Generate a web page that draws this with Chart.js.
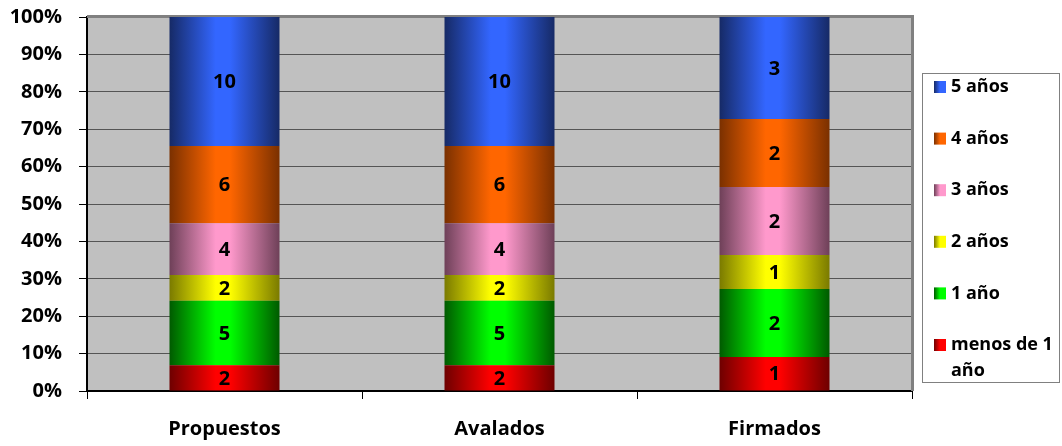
<!DOCTYPE html>
<html>
<head>
<meta charset="utf-8">
<script src="https://cdn.jsdelivr.net/npm/chart.js@4/dist/chart.umd.min.js"></script>
<style>
  html, body { margin: 0; padding: 0; background: #fff; }
  #wrap { width: 1062px; height: 446px; }
</style>
</head>
<body>
<div id="wrap"><canvas id="chart" width="1062" height="446"></canvas></div>
<script>
'use strict';
// categorias y series (conteos)
let categories = ['Propuestos', 'Avalados', 'Firmados'];
let seriesNames = ['menos de 1 año', '1 año', '2 años', '3 años', '4 años', '5 años'];
let menosDeUno = [2, 2, 1];
let unAnio = [5, 5, 2];
let dosAnios = [2, 2, 1];
let tresAnios = [4, 4, 2];
let cuatroAnios = [6, 6, 2];
let cincoAnios = [10, 10, 3];
let yTicks = [0, 10, 20, 30, 40, 50, 60, 70, 80, 90, 100];

// colores: borde oscuro, centro claro
let darkColors = ['#6e0000', '#005a00', '#7a7a00', '#6e4058', '#7a3000', '#162a66'];
let lightColors = ['#ff0000', '#00ff00', '#ffff00', '#ff99cc', '#ff6600', '#3366ff'];

let counts = [menosDeUno, unAnio, dosAnios, tresAnios, cuatroAnios, cincoAnios];
let totals = categories.map((c, i) => counts.reduce((s, arr) => s + arr[i], 0));

const FONT = '"Open Sans", "Liberation Sans", sans-serif';

function barGradient(ctx, s) {
  let chart = ctx.chart;
  if (!chart.chartArea || !chart.scales.x) return lightColors[s];
  let xs = chart.scales.x;
  let cw = xs.width / categories.length;
  let bw = cw * 0.4;
  let cx = xs.getPixelForValue(ctx.dataIndex);
  let g = chart.ctx.createLinearGradient(cx - bw / 2, 0, cx + bw / 2, 0);
  g.addColorStop(0, darkColors[s]);
  g.addColorStop(0.42, lightColors[s]);
  g.addColorStop(0.55, lightColors[s]);
  g.addColorStop(1, darkColors[s]);
  return g;
}

let datasets = counts.map((arr, s) => ({
  label: seriesNames[s],
  data: arr.map((v, i) => v / totals[i] * 100),
  counts: arr,
  backgroundColor: (ctx) => barGradient(ctx, s),
  borderWidth: 0,
  barPercentage: 0.4,
  categoryPercentage: 1.0
}));

// numeros dentro de cada segmento
let valueLabels = {
  id: 'valueLabels',
  afterDatasetsDraw(chart) {
    let c = chart.ctx;
    c.save();
    c.font = 'bold 20px ' + FONT;
    c.fillStyle = '#000';
    c.textAlign = 'center';
    c.textBaseline = 'middle';
    chart.data.datasets.forEach((ds, s) => {
      let meta = chart.getDatasetMeta(s);
      meta.data.forEach((bar, i) => {
        let mid = (bar.y + bar.base) / 2;
        c.fillText(String(ds.counts[i]), bar.x, mid + 1);
      });
    });
    c.restore();
  }
};

// marco del area y leyenda a la derecha
let frameAndLegend = {
  id: 'frameAndLegend',
  beforeDraw(chart) {
    let a = chart.chartArea;
    let c = chart.ctx;
    c.save();
    c.fillStyle = '#c0c0c0';
    c.fillRect(a.left, a.top, a.right - a.left, a.bottom - a.top);
    c.restore();
  },
  beforeDatasetsDraw(chart) {
    let a = chart.chartArea;
    let c = chart.ctx;
    c.save();
    c.strokeStyle = '#808080';
    c.lineWidth = 3;
    c.beginPath();
    c.moveTo(a.left, a.top - 0.5);
    c.lineTo(a.right + 0.5, a.top - 0.5);
    c.lineTo(a.right + 0.5, a.bottom);
    c.stroke();
    c.restore();
  },
  afterDraw(chart) {
    let c = chart.ctx;
    c.save();
    // leyenda
    let bx = 922, by = 73, bw = 138, bh = 310;
    c.fillStyle = '#fff';
    c.fillRect(bx, by, bw, bh);
    c.strokeStyle = '#808080';
    c.lineWidth = 1;
    c.strokeRect(bx + 0.5, by + 0.5, bw - 1, bh - 1);
    c.font = 'bold 18px ' + FONT;
    c.textBaseline = 'middle';
    c.textAlign = 'left';
    let order = [5, 4, 3, 2, 1, 0];
    let y = 87;
    order.forEach((s) => {
      let g = c.createLinearGradient(934, 0, 946, 0);
      g.addColorStop(0, darkColors[s]);
      g.addColorStop(0.5, lightColors[s]);
      g.addColorStop(1, lightColors[s]);
      c.fillStyle = g;
      c.fillRect(934, y - 6, 12, 12);
      c.fillStyle = '#000';
      // ajuste de texto a varias lineas
      let words = seriesNames[s].split(' ');
      let lines = [];
      let cur = '';
      words.forEach((w) => {
        let t = cur ? cur + ' ' + w : w;
        if (c.measureText(t).width > 106 && cur) { lines.push(cur); cur = w; }
        else cur = t;
      });
      lines.push(cur);
      lines.forEach((ln, k) => c.fillText(ln, 951, y + k * 26));
      y += 51.6;
    });
    c.restore();
  }
};

new Chart(document.getElementById('chart'), {
  type: 'bar',
  data: { labels: categories, datasets: datasets },
  options: {
    responsive: false,
    animation: false,
    layout: { padding: { top: 17, right: 150, left: 4, bottom: 0 } },
    plugins: {
      legend: { display: false },
      tooltip: { enabled: false }
    },
    scales: {
      x: {
        stacked: true,
        afterFit(axis) { axis.height = 55; axis.paddingLeft = 0; axis.paddingRight = 0; },
        grid: {
          display: true,
          offset: true,
          drawOnChartArea: false,
          drawTicks: true,
          tickLength: 8,
          tickColor: '#000'
        },
        border: { color: '#000', width: 2 },
        ticks: {
          color: '#000',
          padding: 18,
          font: { family: FONT, size: 20, weight: 'bold' }
        }
      },
      y: {
        stacked: true,
        min: 0,
        max: 100,
        afterFit(axis) { axis.width = 83; axis.paddingTop = 0; axis.paddingBottom = 0; },
        afterBuildTicks(axis) { axis.ticks = yTicks.map((v) => ({ value: v })); },
        grid: {
          color: '#555555',
          lineWidth: 1,
          tickLength: 8,
          tickColor: '#000'
        },
        border: { color: '#000', width: 2 },
        ticks: {
          color: '#000',
          padding: 17,
          font: { family: FONT, size: 20, weight: 'bold' },
          callback: (v) => v + '%'
        }
      }
    }
  },
  plugins: [frameAndLegend, valueLabels]
});
</script>
</body>
</html>
